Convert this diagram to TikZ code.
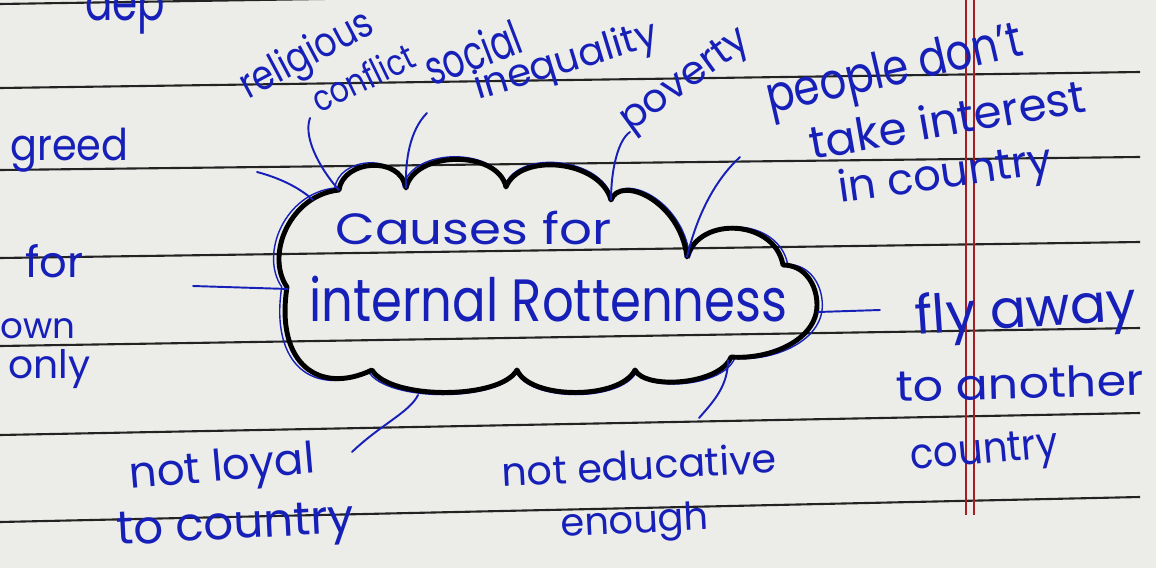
\documentclass[tikz,border=0pt]{standalone}
\usepackage{fontspec}
\setmainfont{Poppins}
\usepackage{graphicx}
\newlength\hwlen
\newcommand{\hw}[3][1]{\pgfmathsetlength{\hwlen}{#2*0.02cm}\resizebox{\hwlen}{!}{\scalebox{1}[#1]{#3}}}
\definecolor{inkblue}{RGB}{22,32,185}
\definecolor{rulegray}{RGB}{35,35,35}
\definecolor{marginred}{RGB}{165,30,35}
\definecolor{paper}{RGB}{236,236,232}
\tikzset{
  ink/.style={text=inkblue, inner sep=0pt, anchor=base west},
  conn/.style={draw=inkblue, line width=1.1pt, line cap=round},
  rule/.style={draw=rulegray, line width=1.2pt},
  margin/.style={draw=marginred, line width=0.8pt},
  cloudline/.style={draw=black, line width=2.8pt, line join=round},
  cloudtrace/.style={draw=inkblue, line width=0.8pt},
  cloudp/.style={insert path={
    (339,190) .. controls (343,160) and (400,155) .. (406,188)
    .. controls (415,150) and (498,150) .. (506,187)
    .. controls (520,152) and (600,160) .. (611,200)
    .. controls (620,175) and (680,200) .. (687,257)
    .. controls (700,215) and (775,220) .. (783,265)
    .. controls (805,265) and (817,285) .. (817,305)
    .. controls (817,340) and (770,360) .. (731,357)
    .. controls (720,385) and (645,390) .. (635,370)
    .. controls (620,400) and (530,400) .. (517,370)
    .. controls (500,400) and (390,400) .. (372,370)
    .. controls (320,395) and (275,365) .. (287,287)
    .. controls (265,255) and (290,195) .. (339,190) -- cycle}}
}
\begin{document}
\begin{tikzpicture}[x=0.02cm,y=-0.02cm]
\useasboundingbox (0,0) rectangle (1156,568);
\fill[paper] (0,0) rectangle (1156,568);
% ruled paper
\draw[rule] (0,4) -- (1156,-14);
\draw[rule] (0,88) -- (1140,72);
\draw[rule] (0,170) -- (1140,157);
\draw[rule] (0,258) -- (1140,242);
\draw[rule] (0,346) -- (1140,328);
\draw[rule] (0,435) -- (1140,413);
\draw[rule] (0,522) -- (1140,497);
\draw[margin] (966,0) -- (966,515);
\draw[margin] (974,0) -- (974,515);
% cloud
\begin{scope}[shift={(550,290)},scale=1.02,shift={(-550,-290)}]
\draw[cloudtrace, cloudp];
\end{scope}
\draw[cloudline, cloudp];
% cloud attachment points
\coordinate (cA) at (339,190);
\coordinate (cB) at (406,188);
\coordinate (cD) at (611,200);
\coordinate (cE) at (687,257);
\coordinate (cK) at (288,289);
\coordinate (cL) at (313,200);
\coordinate (cR) at (818,312);
\coordinate (cJ) at (418,395);
\coordinate (cG) at (728,360);
% texts
\node[ink] (tdep) at (85,20) {\hw[1.3]{80}{dep}};
\node[ink] (tgreed) at (10,160) {\hw[1.1]{118}{greed}};
\node[ink, rotate=28] (trel) at (248,100) {\hw[1.2]{145}{religious}};
\node[ink, rotate=26] (tconf) at (319,114) {\hw[1.2]{110}{conflict}};
\node[ink, rotate=21] (tsoc) at (432,87) {\hw[1.4]{100}{social}};
\node[ink, rotate=17] (tineq) at (478,100) {\hw{190}{inequality}};
\node[ink, rotate=36] (tpov) at (630,133) {\hw{150}{poverty}};
\node[ink, rotate=13] (tpeople) at (770,114) {\hw[1.2]{262}{people don’t}};
\node[ink, rotate=10] (ttake) at (812,160) {\hw{280}{take interest}};
\node[ink, rotate=8] (tincountry) at (840,203) {\hw{215}{in country}};
\node[ink] (tcauses) at (335,244) {\hw[0.85]{276}{Causes for}};
\node[ink] (tinternal) at (309,321) {\hw[1.2]{478}{internal Rottenness}};
\node[ink] (tfor) at (25,277) {\hw{58}{for}};
\node[ink] (town) at (0,338) {\hw{75}{own}};
\node[ink] (tonly) at (8,378) {\hw{82}{only}};
\node[ink, rotate=4] (tfly) at (916,335) {\hw{222}{fly away}};
\node[ink, rotate=1.5] (tanother) at (896,402) {\hw[0.9]{248}{to another}};
\node[ink, rotate=5] (tcountryR) at (911,470) {\hw[1.1]{148}{country}};
\node[ink, rotate=5] (tloyal) at (130,489) {\hw{186}{not loyal}};
\node[ink, rotate=3] (ttocountry) at (117,545) {\hw{238}{to country}};
\node[ink, rotate=3] (tedu) at (502,487) {\hw{275}{not educative}};
\node[ink, rotate=3] (tenough) at (561,537) {\hw{148}{enough}};
% connector free ends near the texts
\coordinate (sgreed) at (257,172);
\coordinate (srel) at (310,118);
\coordinate (ssoc) at (427,113);
\coordinate (spov) at (630,132);
\coordinate (speople) at (740,157);
\coordinate (sown) at (193,286);
\coordinate (sfly) at (880,310);
\coordinate (sloyal) at (352,452);
\coordinate (sedu) at (699,418);
% connectors
\draw[conn] (sgreed) .. controls (280,178) and (300,188) .. (cL);
\draw[conn] (srel) .. controls (302,140) and (325,175) .. (cA);
\draw[conn] (ssoc) .. controls (410,130) and (405,160) .. (cB);
\draw[conn] (spov) .. controls (618,140) and (611,170) .. (cD);
\draw[conn] (speople) .. controls (715,180) and (697,215) .. (cE);
\draw[conn] (sown) -- (cK);
\draw[conn] (cR) -- (sfly);
\draw[conn] (sloyal) .. controls (380,425) and (410,412) .. (cJ);
\draw[conn] (sedu) .. controls (715,400) and (728,385) .. (cG);
\end{tikzpicture}
\end{document}
